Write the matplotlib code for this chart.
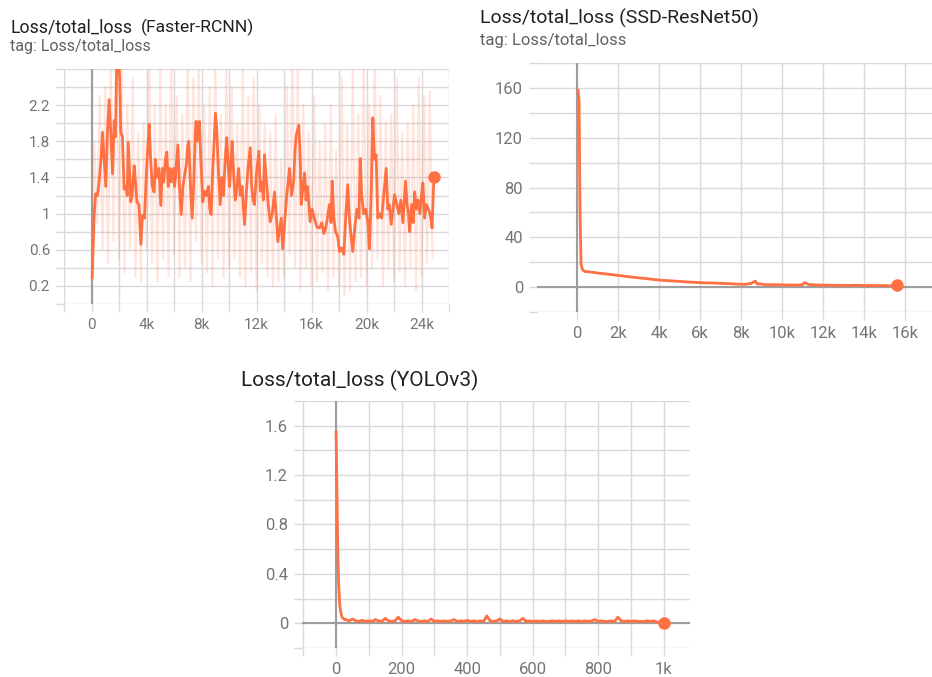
import matplotlib
matplotlib.use('Agg')
import matplotlib.pyplot as plt
import numpy as np
from matplotlib.ticker import MultipleLocator, FuncFormatter

plt.rcParams['font.family'] = ['Roboto', 'DejaVu Sans']

# tensorboard-ish colours
line_color = '#FF7043'
grid_color = '#d9d9d9'
zero_color = '#9e9e9e'
tick_color = '#757575'

# ---- Faster-RCNN: smoothed curve (steps in thousands) ----
frcnn_steps = [0.05, 0.2, 0.3, 0.44, 0.55, 0.68, 0.8, 0.92, 1.04, 1.16, 1.28, 1.4, 1.53, 1.65, 1.75,
               1.84, 1.95, 2.05, 2.13, 2.25, 2.37, 2.5, 2.6, 2.67, 2.78, 2.86, 2.95, 3.1, 3.2, 3.3,
               3.45, 3.59, 3.71, 3.85, 3.95, 4.08, 4.19, 4.3, 4.42, 4.55, 4.65, 4.75, 4.9, 5.04, 5.15,
               5.25, 5.38, 5.48, 5.58, 5.7, 5.8, 5.95, 6.05, 6.2, 6.28, 6.4, 6.52, 6.65, 6.8, 6.9,
               7.0, 7.08, 7.2, 7.32, 7.45, 7.55, 7.61, 7.72, 7.85, 7.95, 8.1, 8.2, 8.35, 8.5, 8.6,
               8.7, 8.82, 8.92, 9.02, 9.12, 9.22, 9.36, 9.48, 9.6, 9.72, 9.84, 9.95, 10.05, 10.15, 10.23,
               10.35, 10.45, 10.55, 10.7, 10.82, 10.95, 11.05, 11.13, 11.25, 11.38, 11.54, 11.65, 11.75, 11.85, 12.0,
               12.17, 12.28, 12.4, 12.5, 12.58, 12.7, 12.85, 13.0, 13.15, 13.31, 13.45, 13.55, 13.7, 13.8, 13.9,
               14.05, 14.2, 14.4, 14.55, 14.7, 14.8, 14.89, 15.08, 15.18, 15.25, 15.38, 15.5, 15.6, 15.72, 15.9,
               16.05, 16.2, 16.4, 16.58, 16.75, 16.9, 17.05, 17.2, 17.31, 17.42, 17.5, 17.62, 17.75, 17.9, 18.04,
               18.2, 18.35, 18.5, 18.64, 18.75, 18.88, 19.0, 19.15, 19.3, 19.45, 19.54, 19.65, 19.8, 19.95, 20.1,
               20.22, 20.35, 20.46, 20.58, 20.7, 20.82, 20.95, 21.1, 21.25, 21.43, 21.55, 21.65, 21.8, 21.92, 22.04,
               22.2, 22.35, 22.5, 22.65, 22.84, 22.95, 23.05, 23.13, 23.28, 23.4, 23.5, 23.62, 23.75, 23.88, 24.0,
               24.1, 24.22, 24.35, 24.5, 24.62, 24.77, 24.9]
frcnn_smooth = [0.29, 1.0, 1.22, 1.2, 1.35, 1.57, 1.9, 1.6, 1.3, 1.9, 2.26, 1.9, 1.44, 2.03, 1.85,
                2.75, 2.8, 2.5, 1.9, 1.85, 1.27, 1.3, 1.2, 1.79, 1.4, 1.13, 1.2, 1.53, 1.35, 1.13,
                1.1, 0.66, 0.98, 0.95, 1.3, 1.7, 1.99, 1.6, 1.3, 1.24, 1.6, 1.4, 1.5, 1.09, 1.5,
                1.35, 1.6, 1.68, 1.3, 1.5, 1.35, 1.5, 1.3, 1.6, 1.76, 1.3, 0.99, 1.3, 1.45, 1.55,
                1.75, 1.8, 1.3, 0.95, 1.4, 1.9, 2.02, 1.8, 2.02, 1.6, 1.13, 1.25, 1.2, 1.3, 1.05,
                0.99, 1.5, 1.8, 2.11, 1.9, 1.5, 1.1, 1.4, 1.2, 1.6, 1.84, 1.5, 1.3, 1.6, 1.8,
                1.4, 1.15, 1.25, 1.5, 1.2, 1.3, 1.05, 0.88, 1.2, 1.5, 1.73, 1.3, 1.15, 1.1, 1.45,
                1.69, 1.25, 1.35, 1.15, 1.65, 1.4, 1.1, 0.91, 1.0, 1.24, 0.95, 0.69, 0.85, 0.95, 0.61,
                0.9, 1.2, 1.5, 1.2, 1.35, 1.7, 1.87, 1.98, 1.6, 1.1, 1.3, 1.45, 1.15, 1.3, 0.91,
                1.05, 0.95, 0.85, 0.84, 0.9, 0.78, 0.85, 1.0, 1.1, 0.9, 1.36, 0.95, 0.8, 0.75, 0.58,
                0.62, 0.55, 1.0, 1.32, 0.95, 0.75, 0.58, 0.85, 1.05, 0.95, 1.61, 1.2, 1.0, 1.05, 0.9,
                0.61, 1.3, 2.06, 1.6, 1.65, 0.95, 1.0, 0.95, 1.2, 1.5, 1.05, 1.1, 0.88, 1.05, 1.21,
                1.1, 1.0, 1.15, 0.9, 1.36, 1.1, 1.0, 0.8, 1.1, 0.9, 1.24, 1.05, 1.15, 1.0, 1.2,
                1.34, 0.95, 1.1, 1.05, 1.0, 0.84, 1.41]

# Faster-RCNN raw (faint) values, one every 200 steps
frcnn_raw = [0.3, 1.8, 0.9, 2.3, 0.6, 2.4, 0.45, 2.7, 0.7, 2.9, 0.5, 2.7, 0.35, 2.2, 0.6, 2.5,
             0.3, 1.9, 0.25, 2.0, 0.6, 2.8, 0.45, 2.2, 0.25, 2.6, 0.5, 2.2, 0.3, 2.8, 0.55, 2.3,
             0.3, 2.1, 0.4, 2.8, 0.25, 2.5, 0.7, 2.7, 0.45, 2.2, 0.35, 2.4, 0.2, 2.8, 0.5, 2.1,
             0.3, 2.6, 0.4, 2.4, 0.5, 2.0, 0.3, 2.7, 0.2, 2.3, 0.35, 2.5, 0.15, 2.2, 0.45, 2.0,
             0.3, 1.9, 0.2, 2.1, 0.25, 1.6, 0.3, 2.4, 0.55, 2.8, 0.4, 2.6, 0.15, 2.2, 0.4, 1.9,
             0.2, 2.3, 0.25, 1.8, 0.35, 2.0, 0.15, 2.2, 0.3, 1.7, 0.2, 2.5, 0.1, 2.0, 0.15, 2.6,
             0.25, 2.1, 0.3, 2.8, 0.2, 2.2, 0.4, 2.8, 0.5, 2.3, 0.2, 2.0, 0.4, 2.1, 0.25, 2.5,
             0.35, 1.9, 0.2, 2.0, 0.4, 2.2, 0.15, 2.5, 0.3, 2.3, 0.45, 2.35, 0.5]
frcnn_raw_steps = np.arange(len(frcnn_raw)) * 200

# ---- SSD-ResNet50 (steps in thousands) ----
ssd_steps = [0.05, 0.1, 0.15, 0.2, 0.25, 0.3, 0.4, 0.6, 0.8, 1.0, 1.4, 1.8, 2.2, 2.6, 3.0, 3.4, 3.8,
             4.2, 4.6, 5.0, 5.4, 5.8, 6.2, 6.6, 7.0, 7.4, 7.8, 8.2, 8.5, 8.7, 8.8, 8.9, 9.2, 9.6,
             10.0, 10.4, 10.8, 11.0, 11.1, 11.3, 11.6, 12.0, 12.4, 12.8, 13.2, 13.6, 14.0, 14.4,
             14.8, 15.2, 15.6]
ssd_loss = [158, 150, 60, 18, 15, 13.5, 12.5, 12.2, 11.8, 11.3, 10.6, 9.8, 9.0, 8.2, 7.4, 6.8, 6.0,
            5.4, 5.0, 4.6, 4.1, 3.8, 3.4, 3.3, 3.0, 2.8, 2.4, 2.2, 3.0, 4.8, 2.5, 2.6, 2.0, 1.9,
            1.8, 1.7, 1.6, 2.0, 3.6, 2.1, 1.8, 1.6, 1.5, 1.4, 1.3, 1.5, 1.2, 1.3, 1.2, 1.1, 1.4]

# ---- YOLOv3 ----
yolo_steps = [0, 2, 4, 6, 8, 10, 12, 15, 18, 22, 26] + list(range(30, 1001, 10))
yolo_loss = [1.55, 1.2, 0.8, 0.5, 0.32, 0.2, 0.13, 0.08, 0.05, 0.04, 0.03,
             0.03, 0.02, 0.035, 0.02, 0.015, 0.025, 0.015, 0.02, 0.015, 0.03,
             0.02, 0.015, 0.04, 0.02, 0.015, 0.02, 0.05, 0.02, 0.015, 0.02,
             0.015, 0.03, 0.02, 0.015, 0.02, 0.015, 0.035, 0.015, 0.02, 0.015,
             0.02, 0.015, 0.02, 0.03, 0.015, 0.02, 0.015, 0.025, 0.015, 0.02,
             0.015, 0.02, 0.015, 0.06, 0.02, 0.015, 0.02, 0.035, 0.015, 0.02,
             0.015, 0.02, 0.015, 0.02, 0.04, 0.015, 0.02, 0.015, 0.02, 0.015,
             0.02, 0.015, 0.015, 0.02, 0.015, 0.02, 0.015, 0.02, 0.015, 0.02,
             0.015, 0.02, 0.015, 0.02, 0.015, 0.02, 0.03, 0.015, 0.02, 0.015,
             0.015, 0.02, 0.015, 0.05, 0.02, 0.015, 0.02, 0.015, 0.02, 0.015,
             0.015, 0.015, 0.02, 0.015, 0.02, 0.01, 0.005, 0.0]
yolo_raw = yolo_loss  # raw and smoothed are nearly identical here


def k_format(v, pos):
    if v == 0:
        return '0'
    if abs(v) >= 1000:
        return '%gk' % (v / 1000)
    return '%g' % v


def style_axes(ax, xmaj, xmin, ymaj, ymin, yzero=True, labelsize=11):
    for s in ax.spines.values():
        s.set_visible(False)
    ax.xaxis.set_major_locator(MultipleLocator(xmaj))
    ax.xaxis.set_minor_locator(MultipleLocator(xmin))
    ax.yaxis.set_major_locator(MultipleLocator(ymaj))
    ax.yaxis.set_minor_locator(MultipleLocator(ymin))
    ax.xaxis.set_major_formatter(FuncFormatter(k_format))
    ax.yaxis.set_major_formatter(FuncFormatter(lambda v, p: '%g' % round(v, 6)))
    ax.grid(True, which='both', color=grid_color, lw=1.0, zorder=0)
    ax.tick_params(which='both', length=6, width=1.0, color=grid_color,
                   labelcolor=tick_color, labelsize=labelsize, pad=4)
    ax.axvline(0, color=zero_color, lw=1.5, zorder=1)
    if yzero:
        ax.axhline(0, color=zero_color, lw=1.5, zorder=1)
    ax.set_axisbelow(True)


fig = plt.figure(figsize=(9.32, 6.77), dpi=100)

# Faster-RCNN
ax1 = fig.add_axes([64 / 932, 1 - 304 / 677, 385 / 932, 235 / 677])
ax1.plot(frcnn_raw_steps, frcnn_raw, color=line_color, alpha=0.18, lw=1.5, zorder=2)
fx = np.array(frcnn_steps) * 1000
ax1.plot(fx, frcnn_smooth, color=line_color, lw=2, zorder=3)
ax1.plot(fx[-1], frcnn_smooth[-1], 'o', color=line_color, ms=8, zorder=4)
ax1.set_xlim(-2000, 26000)
ax1.set_ylim(0, 2.6)
style_axes(ax1, 4000, 2000, 0.4, 0.2, yzero=False, labelsize=11)
ax1.yaxis.set_major_locator(plt.FixedLocator([0.2, 0.6, 1.0, 1.4, 1.8, 2.2]))

fig.text(10 / 932, 1 - 27 / 677, 'Loss/total_loss', fontsize=12.8, color='#212121', va='center')
fig.text(141 / 932, 1 - 27 / 677, '(Faster-RCNN)', fontsize=12.6, color='#212121', va='center')
fig.text(10 / 932, 1 - 46 / 677, 'tag: Loss/total_loss', fontsize=11.5, color='#616161', va='center')

# SSD-ResNet50
ax2 = fig.add_axes([537 / 932, 1 - 312 / 677, 395 / 932, 249 / 677])
sx = np.array(ssd_steps) * 1000
ax2.plot(sx, ssd_loss, color=line_color, alpha=0.2, lw=1.5, zorder=2)
ax2.plot(sx, ssd_loss, color=line_color, lw=2, zorder=3)
ax2.plot(sx[-1], ssd_loss[-1], 'o', color=line_color, ms=8, zorder=4)
ax2.set_xlim(-1950, 17320)
ax2.set_ylim(-20, 180)
style_axes(ax2, 2000, 2000, 40, 20, labelsize=12)

fig.text(480 / 932, 1 - 18 / 677, 'Loss/total_loss (SSD-ResNet50)', fontsize=14, color='#212121', va='center')
fig.text(480 / 932, 1 - 40 / 677, 'tag: Loss/total_loss', fontsize=12, color='#616161', va='center')

# YOLOv3
ax3 = fig.add_axes([302 / 932, 1 - 648 / 677, 388 / 932, 247 / 677])
ax3.plot(yolo_steps, yolo_raw, color=line_color, alpha=0.2, lw=1.5, zorder=2)
ax3.plot(yolo_steps, yolo_loss, color=line_color, lw=2, zorder=3)
ax3.plot(yolo_steps[-1], yolo_loss[-1], 'o', color=line_color, ms=8, zorder=4)
ax3.set_xlim(-104, 1080)
ax3.set_ylim(-0.2, 1.8)
style_axes(ax3, 200, 100, 0.4, 0.2, labelsize=12)

fig.text(241 / 932, 1 - 380 / 677, 'Loss/total_loss (YOLOv3)', fontsize=15, color='#212121', va='center')

fig.savefig('out.png', dpi=100)
